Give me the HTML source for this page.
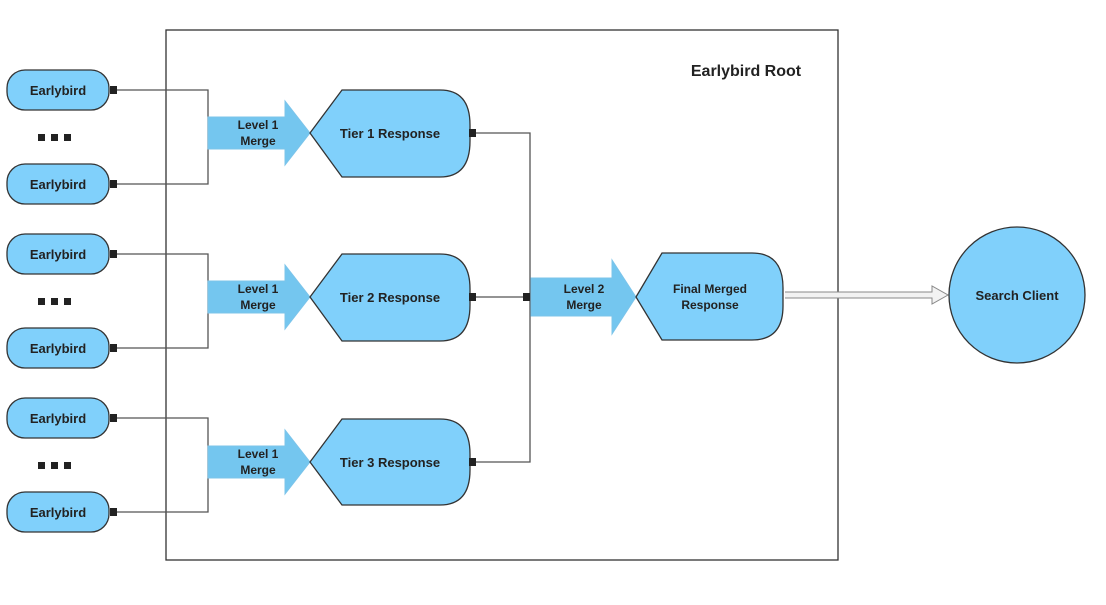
<!DOCTYPE html>
<html><head><meta charset="utf-8"><style>
html,body{margin:0;padding:0;background:#fff;}
text{font-family:"Liberation Sans",Arial,sans-serif;font-weight:bold;fill:#222;}
</style></head><body>
<svg width="1106" height="600" viewBox="0 0 1106 600" xmlns="http://www.w3.org/2000/svg">
<defs>
<g id="eb">
<rect x="7" y="-20" width="102" height="40" rx="18" fill="#80d0fb" stroke="#333" stroke-width="1.3"/>
<rect x="110" y="-4" width="7" height="8" fill="#222"/>
<text x="58" y="5" font-size="13" text-anchor="middle">Earlybird</text>
</g>
<g id="dots"><rect x="38" y="-3" width="7" height="7" fill="#222"/><rect x="51" y="-3" width="7" height="7" fill="#222"/><rect x="64" y="-3" width="7" height="7" fill="#222"/></g>
<g id="arr1">
<path d="M208,-16 H285 V-32 L310,0 L285,32 V16 H208 Z" fill="#74c6ef" stroke="#7cc4ea" stroke-width="1"/>
<text x="258" y="-4" font-size="12" text-anchor="middle">Level 1</text>
<text x="258" y="12" font-size="12" text-anchor="middle">Merge</text>
</g>
</defs>
<rect x="166" y="30" width="672" height="530" fill="none" stroke="#333" stroke-width="1.3"/>
<text x="746" y="76" font-size="16" text-anchor="middle">Earlybird Root</text>

<!-- groups -->
<g fill="none" stroke="#555" stroke-width="1.3">
<path d="M117,90 H208 V184 H117"/>
<path d="M117,254 H208 V348 H117"/>
<path d="M117,418 H208 V512 H117"/>
<path d="M474,133 H530 V462 H474"/>
<path d="M474,297 H530"/>
</g>
<use href="#eb" transform="translate(0,90)"/>
<use href="#eb" transform="translate(0,184)"/>
<use href="#eb" transform="translate(0,254)"/>
<use href="#eb" transform="translate(0,348)"/>
<use href="#eb" transform="translate(0,418)"/>
<use href="#eb" transform="translate(0,512)"/>
<use href="#dots" transform="translate(0,137)"/>
<use href="#dots" transform="translate(0,301)"/>
<use href="#dots" transform="translate(0,465)"/>
<use href="#arr1" transform="translate(0,133)"/>
<use href="#arr1" transform="translate(0,297)"/>
<use href="#arr1" transform="translate(0,462)"/>

<g fill="#80d0fb" stroke="#333" stroke-width="1.3">
<path d="M310,133 L342,90 H440 Q470,90 470,125 V141 Q470,177 440,177 H342 Z"/>
<path d="M310,297 L342,254 H440 Q470,254 470,289 V305 Q470,341 440,341 H342 Z"/>
<path d="M310,462 L342,419 H440 Q470,419 470,454 V470 Q470,505 440,505 H342 Z"/>
</g>
<g fill="#222">
<rect x="469" y="129" width="7" height="8"/><rect x="469" y="293" width="7" height="8"/><rect x="469" y="458" width="7" height="8"/>
<rect x="523" y="293" width="7" height="8"/>
</g>
<text x="390" y="138" font-size="13" text-anchor="middle">Tier 1 Response</text>
<text x="390" y="302" font-size="13" text-anchor="middle">Tier 2 Response</text>
<text x="390" y="467" font-size="13" text-anchor="middle">Tier 3 Response</text>

<path d="M531,278 H612 V260 L636,297 L612,334 V316 H531 Z" fill="#74c6ef" stroke="#7cc4ea"/>
<text x="584" y="293" font-size="12" text-anchor="middle">Level 2</text>
<text x="584" y="309" font-size="12" text-anchor="middle">Merge</text>

<path d="M636,297 L662,253 H752 Q783,253 783,288 V306 Q783,340 752,340 H662 Z" fill="#80d0fb" stroke="#333" stroke-width="1.3"/>
<text x="710" y="293" font-size="12" text-anchor="middle">Final Merged</text>
<text x="710" y="309" font-size="12" text-anchor="middle">Response</text>

<path d="M785,292 H932 V286 L948,295 L932,304 V298 H785" fill="#f2f2f2" stroke="#888" stroke-width="1"/>
<circle cx="1017" cy="295" r="68" fill="#80d0fb" stroke="#333" stroke-width="1.3"/>
<text x="1017" y="300" font-size="13" text-anchor="middle">Search Client</text>
</svg>
</body></html>
